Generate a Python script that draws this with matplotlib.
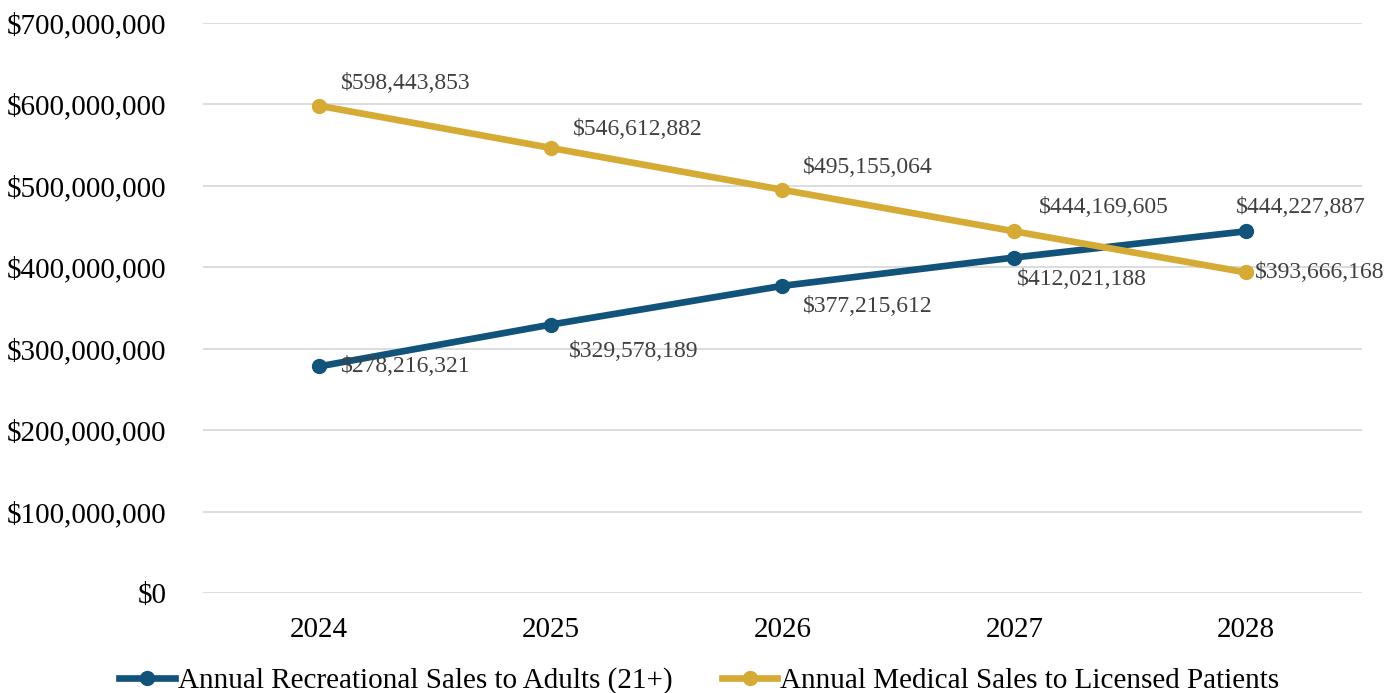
import matplotlib.pyplot as plt
from matplotlib.ticker import FuncFormatter

# Data
years = ["2024", "2025", "2026", "2027", "2028"]
recreational = [278216321, 329578189, 377215612, 412021188, 444227887]
medical = [598443853, 546612882, 495155064, 444169605, 393666168]

# label offsets in points (dx, dy) for each point
rec_offsets = [(16, 0), (13, -19), (15, -15), (2, -16), (-7, 17)]
med_offsets = [(16, 16), (16, 13), (15, 16), (18, 17), (6, 0)]

blue = "#11537a"
gold = "#d5ab35"

plt.rcParams['font.family'] = ['Liberation Serif', 'DejaVu Serif']

fig = plt.figure(figsize=(13.99, 6.93), dpi=100)
ax = fig.add_axes([0.145, 0.1443, 0.8286, 0.8225])

x = list(range(len(years)))
ax.plot(x, recreational, color=blue, lw=4.8, marker='o', ms=10,
        label="Annual Recreational Sales to Adults (21+)")
ax.plot(x, medical, color=gold, lw=4.8, marker='o', ms=10,
        label="Annual Medical Sales to Licensed Patients")

for xi, v, (dx, dy) in zip(x, recreational, rec_offsets):
    ax.annotate(f"${v:,.0f}", (xi, v), xytext=(dx, dy), textcoords='offset points',
                ha='left', va='center', fontsize=17, color='#404040')
for xi, v, (dx, dy) in zip(x, medical, med_offsets):
    ax.annotate(f"${v:,.0f}", (xi, v), xytext=(dx, dy), textcoords='offset points',
                ha='left', va='center', fontsize=17, color='#404040')

ax.set_xlim(-0.5, 4.5)
ax.set_ylim(0, 700000000)
ax.set_yticks(range(0, 700000001, 100000000))
ax.yaxis.set_major_formatter(FuncFormatter(lambda v, p: f"${v:,.0f}"))
ax.set_xticks(x)
ax.set_xticklabels(years)
ax.tick_params(axis='both', length=0, labelsize=21, colors='black')
ax.tick_params(axis='y', pad=26)
ax.tick_params(axis='x', pad=17)
ax.grid(axis='y', color='#d9d9d9', lw=1.3)
ax.set_axisbelow(True)
for s in ax.spines.values():
    s.set_visible(False)

fig.legend(loc='lower center', bbox_to_anchor=(0.5, -0.04), ncol=2, frameon=False,
           fontsize=21, handlelength=1.9, handletextpad=0.1, columnspacing=1.7)

fig.savefig("out.png", dpi=100)
